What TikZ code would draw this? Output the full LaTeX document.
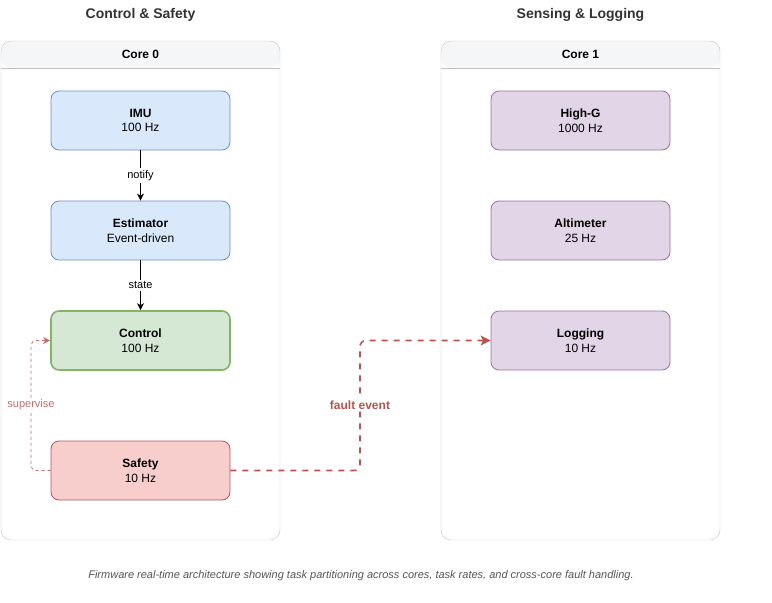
\documentclass[tikz,border=0pt]{standalone}
\usepackage{fontspec}
\setmainfont{Liberation Sans}
\usetikzlibrary{positioning, arrows.meta}

\definecolor{imublue}{HTML}{DAE8FC}
\definecolor{imuline}{HTML}{6C8EBF}
\definecolor{ctrlgreen}{HTML}{D5E8D4}
\definecolor{ctrlline}{HTML}{82B366}
\definecolor{safered}{HTML}{F8CECC}
\definecolor{safeline}{HTML}{B85450}
\definecolor{senspurple}{HTML}{E1D5E7}
\definecolor{sensline}{HTML}{9673A6}
\definecolor{coreline}{HTML}{C2C2C2}
\definecolor{corehead}{HTML}{F5F6F8}
\definecolor{titlegray}{HTML}{333333}
\definecolor{capgray}{HTML}{555555}

\begin{document}
\begin{tikzpicture}[x=1pt, y=-1pt,
    font=\fontsize{12}{14.5}\selectfont,
    task/.style={draw, rounded corners=8pt, minimum width=179pt, minimum height=59pt,
      align=center, line width=0.8pt},
    bluetask/.style={task, fill=imublue, draw=imuline},
    greentask/.style={task, fill=ctrlgreen, draw=ctrlline, line width=1.6pt},
    redtask/.style={task, fill=safered, draw=safeline},
    purpletask/.style={task, fill=senspurple, draw=sensline},
    flow/.style={-{Stealth[length=7pt,width=7pt,inset=2pt]}, line width=0.8pt},
    edgelabel/.style={fill=white, inner sep=2pt, font=\fontsize{11}{13}\selectfont},
    coretitle/.style={font=\fontsize{14}{16}\selectfont\bfseries, text=titlegray}]
  \useasboundingbox (0,0) rectangle (772,603);

  % core containers
  \foreach \cx/\cname in {1/0, 441/1} {
    \fill[corehead, rounded corners=10pt] (\cx,68) -- (\cx,41) -- (\cx+279,41) -- (\cx+279,68) -- cycle;
    \draw[coreline, rounded corners=10pt] (\cx,41) rectangle (\cx+279,540);
    \draw[coreline] (\cx,68) -- (\cx+279,68);
    \node[font=\fontsize{12}{14}\selectfont\bfseries] (head\cname) at (\cx+139.5,54.5) {Core \cname};
  }
  \node[coretitle] (title0) at (140.5,15) {Control \& Safety};
  \node[coretitle] (title1) at (580.5,15) {Sensing \& Logging};

  % core 0 tasks
  \node[bluetask] (imu) at (140.5,120.5) {\textbf{IMU}\\100 Hz};
  \node[bluetask] (estimator) at (140.5,230.5) {\textbf{Estimator}\\Event-driven};
  \node[greentask] (control) at (140.5,340.5) {\textbf{Control}\\100 Hz};
  \node[redtask] (safety) at (140.5,470.5) {\textbf{Safety}\\10 Hz};

  % core 1 tasks
  \node[purpletask] (highg) at (580.5,120.5) {\textbf{High-G}\\1000 Hz};
  \node[purpletask] (altimeter) at (580.5,230.5) {\textbf{Altimeter}\\25 Hz};
  \node[purpletask] (logging) at (580.5,340.5) {\textbf{Logging}\\10 Hz};

  % connectors
  \draw[flow] (imu) -- node[edgelabel] {notify} (estimator);
  \draw[flow] (estimator) -- node[edgelabel] {state} (control);

  \draw[safeline!85, line width=0.8pt, dash pattern=on 3pt off 3pt, rounded corners=5pt,
    -{Stealth[length=7pt,width=7pt,inset=2pt]}]
    (safety.west) -| (31,405) node[edgelabel, text=safeline!85] {supervise} |- (control.west);

  \draw[safeline, line width=1.6pt, dash pattern=on 6pt off 6pt, rounded corners=6pt,
    -{Stealth[length=10pt,width=10pt,inset=2.5pt]}]
    (safety.east) -| (360,405) node[edgelabel, font=\fontsize{12}{14}\selectfont\bfseries,
      text=safeline] {fault event} |- (logging.west);

  \node[font=\fontsize{11}{13}\selectfont\itshape, text=capgray] (caption) at (361,576)
    {Firmware real-time architecture showing task partitioning across cores, task rates, and cross-core fault handling.};
\end{tikzpicture}
\end{document}
